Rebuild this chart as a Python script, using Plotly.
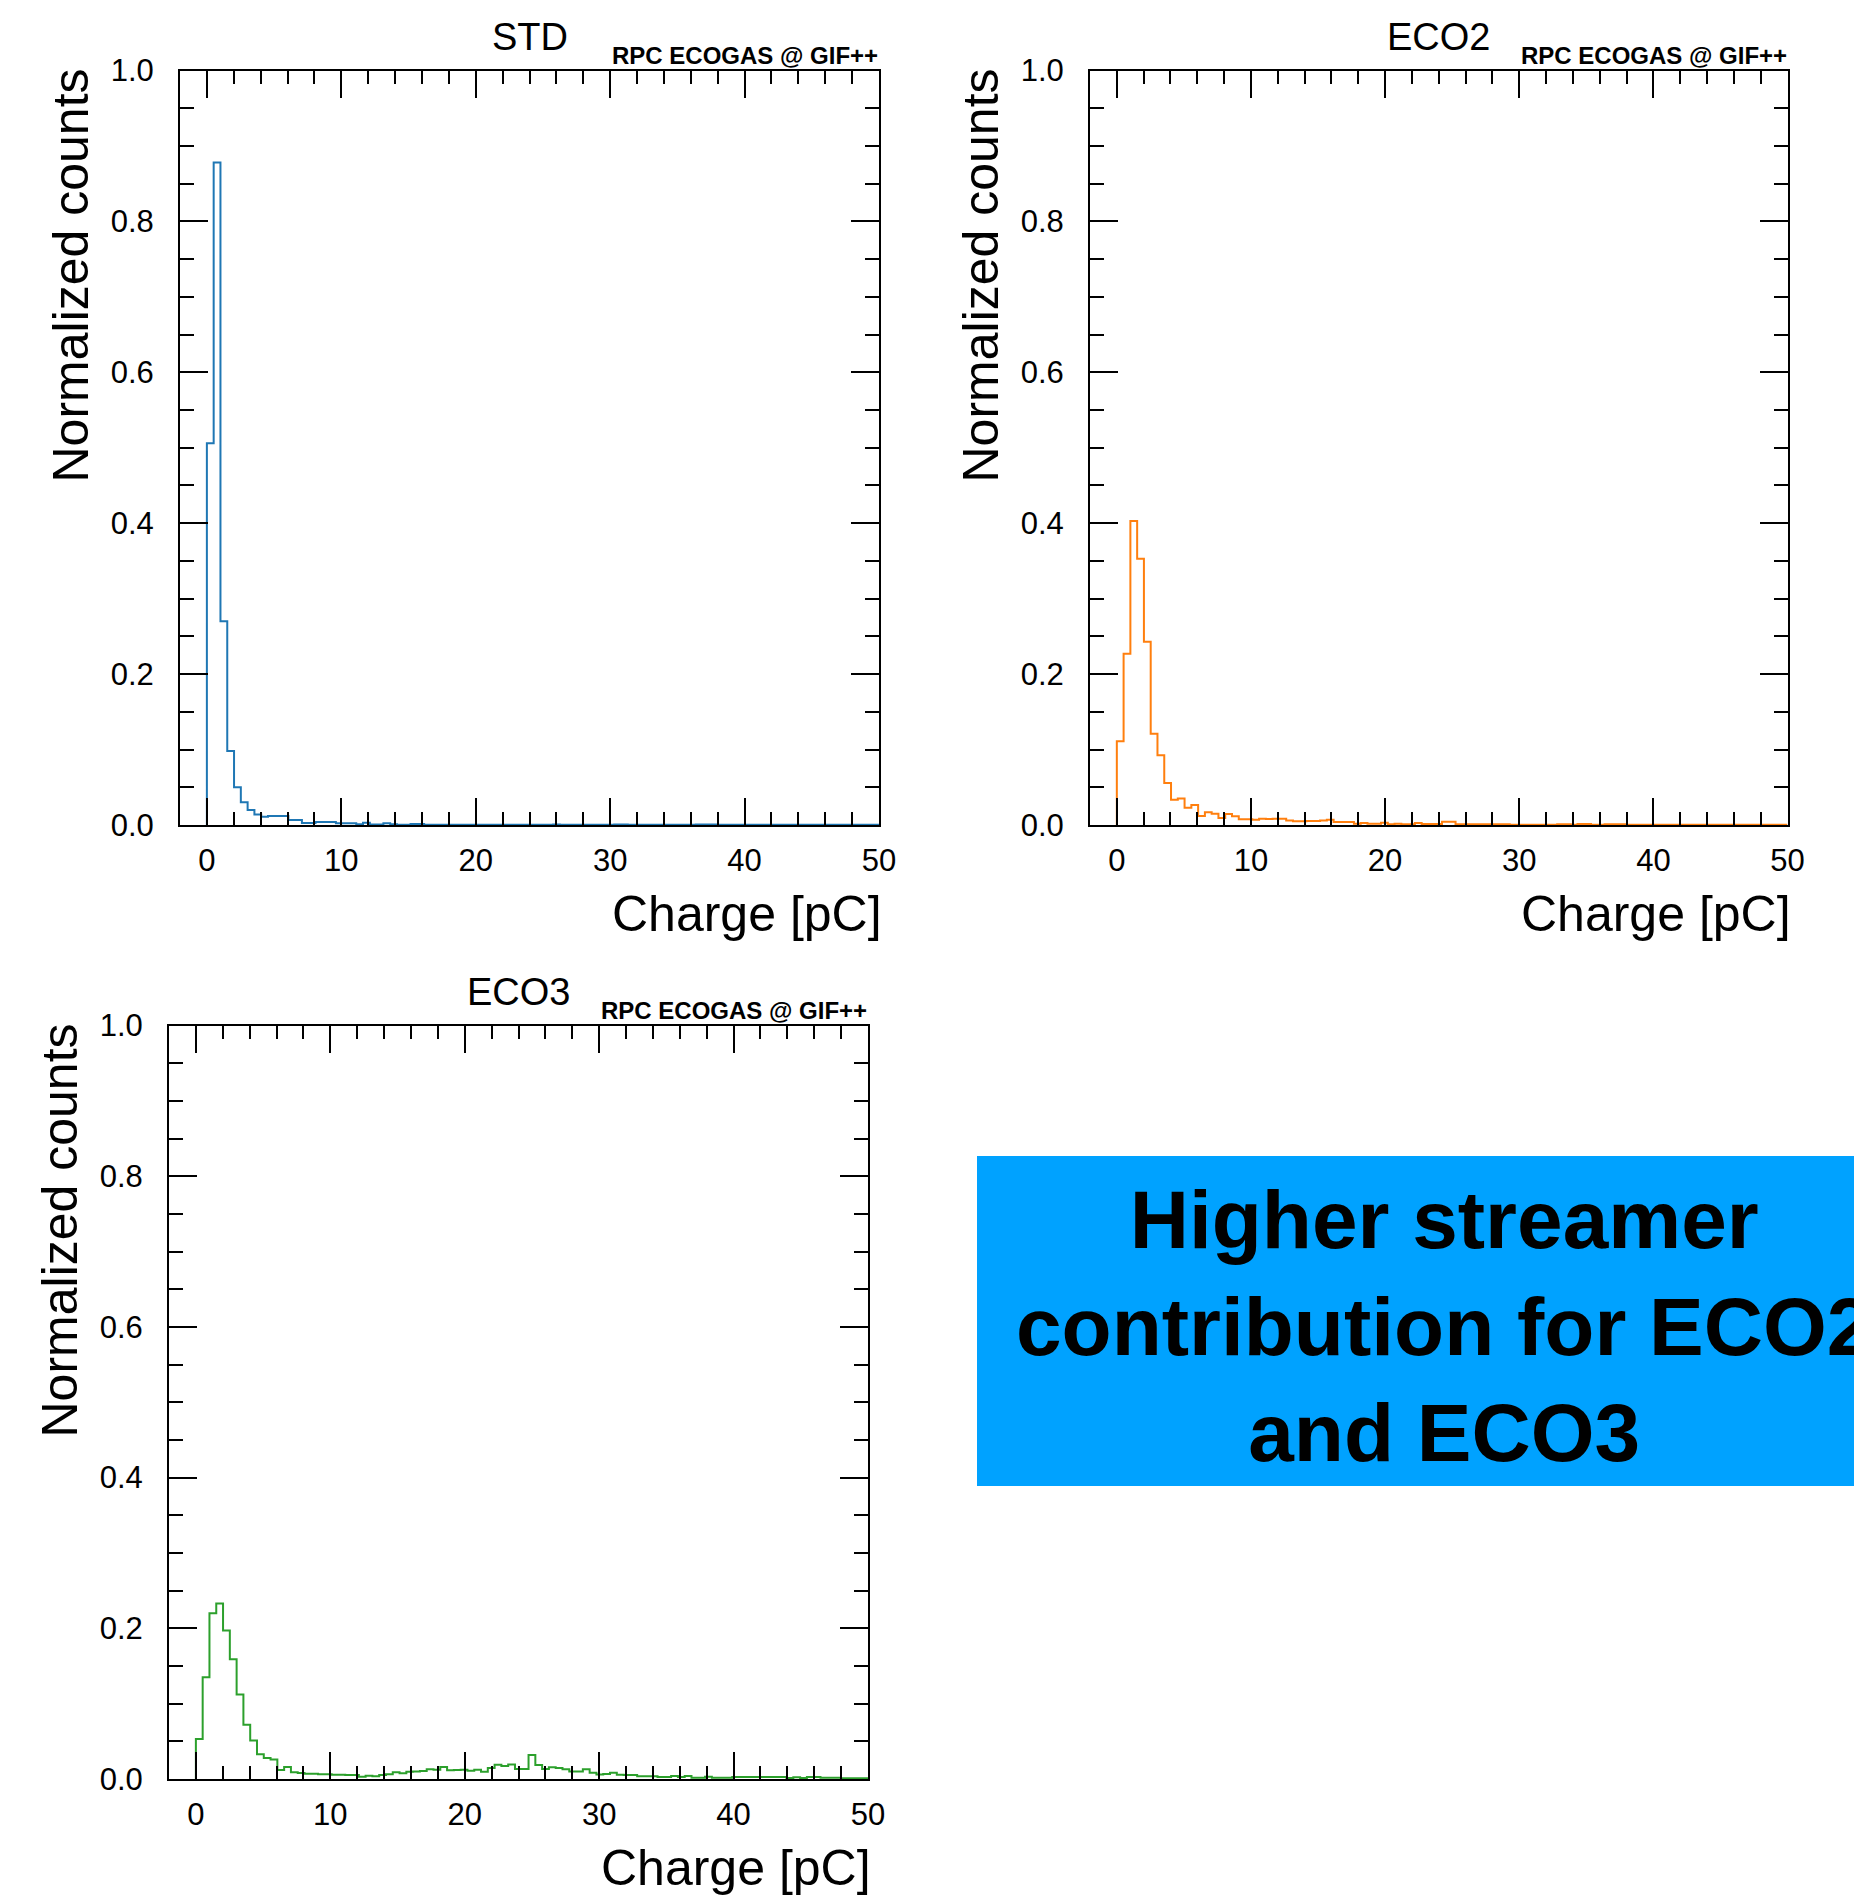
import numpy as np
import plotly.graph_objects as go

# ---------------- data ----------------
CHARGE_MIN = 0.0
CHARGE_MAX = 50.0
N_BINS = 99

panel_titles = ["STD", "ECO2", "ECO3"]
watermark = "RPC ECOGAS @ GIF++"
x_title = "Charge [pC]"
y_title = "Normalized counts"
box_text = "Higher streamer<br>contribution for ECO2<br>and ECO3"

x_tick_labels = ["0", "10", "20", "30", "40", "50"]
y_tick_labels = ["0.0", "0.2", "0.4", "0.6", "0.8", "1.0"]

std_counts = [
    0.506, 0.878, 0.270, 0.098, 0.050, 0.030, 0.020, 0.014, 0.011, 0.012,
    0.012, 0.012, 0.0065, 0.0065, 0.0028, 0.0028, 0.004, 0.004, 0.004, 0.0022,
    0.0022, 0.0022, 0.0009, 0.003, 0.0005, 0.0005, 0.0022, 0.0009, 0.0003, 0.0003,
    0.0013, 0.0013, 0.0003, 0.0003, 0.0003, 0.0003, 0.0003, 0.0003, 0.0003, 0.0003,
    0.0003, 0.0003, 0.0003, 0.0003, 0.0003, 0.0003, 0.0003, 0.0003, 0.0003, 0.0003,
    0.0003, 0.0006, 0.0003, 0.0003, 0.0003, 0.0003, 0.0003, 0.0003, 0.0003, 0.0003,
    0.0006, 0.0006, 0.0003, 0.0003, 0.0003, 0.0003, 0.0003, 0.0003, 0.0003, 0.0003,
    0.0003, 0.0003, 0.0006, 0.0006, 0.0006, 0.0003, 0.0003, 0.0003, 0.0003, 0.0003,
    0.0003, 0.0003, 0.0003, 0.0003, 0.0003, 0.0003, 0.0003, 0.0003, 0.0003, 0.0003,
    0.0003, 0.0003, 0.0003, 0.0003, 0.0003, 0.0003, 0.0003, 0.0003, 0.0003,
]

eco2_counts = [
    0.111, 0.227, 0.403, 0.353, 0.243, 0.121, 0.0925, 0.0558, 0.0336, 0.035,
    0.023, 0.0265, 0.012, 0.017, 0.015, 0.0093, 0.0146, 0.0115, 0.0075, 0.0075,
    0.007, 0.0084, 0.008, 0.0084, 0.0084, 0.0058, 0.0049, 0.0049, 0.0053, 0.0053,
    0.0058, 0.007, 0.004, 0.004, 0.004, 0.0018, 0.0027, 0.0018, 0.0018, 0.003,
    0.0009, 0.0018, 0.0009, 0.0009, 0.0027, 0.0013, 0.0013, 0.0013, 0.0044, 0.0044,
    0.0009, 0.0009, 0.0009, 0.0009, 0.0009, 0.0009, 0.0009, 0.0009, 0.0004, 0.0004,
    0.0002, 0.0002, 0.0002, 0.0002, 0.0002, 0.0009, 0.0009, 0.0002, 0.0013, 0.0013,
    0.0002, 0.0002, 0.0009, 0.0009, 0.0009, 0.0002, 0.0002, 0.0002, 0.0002, 0.0002,
    0.0002, 0.0002, 0.0004, 0.0004, 0.0004, 0.0004, 0.0002, 0.0002, 0.0002, 0.0002,
    0.0002, 0.0002, 0.0002, 0.0002, 0.0002, 0.0002, 0.0002, 0.0002, 0.0002,
]

eco3_counts = [
    0.053, 0.135, 0.220, 0.233, 0.197, 0.159, 0.112, 0.072, 0.051, 0.033,
    0.028, 0.026, 0.012, 0.016, 0.0088, 0.0079, 0.007, 0.007, 0.0062, 0.0062,
    0.0057, 0.0057, 0.0053, 0.0053, 0.003, 0.0044, 0.0035, 0.0053, 0.0062, 0.0088,
    0.0075, 0.0097, 0.0101, 0.0106, 0.0128, 0.0123, 0.0159, 0.0115, 0.0119, 0.0123,
    0.011, 0.0124, 0.0097, 0.0146, 0.019, 0.0172, 0.0194, 0.0132, 0.0132, 0.0318,
    0.0185, 0.0132, 0.0155, 0.0146, 0.0128, 0.010, 0.010, 0.013, 0.0084, 0.006,
    0.0066, 0.0084, 0.0057, 0.0053, 0.0053, 0.0035, 0.0035, 0.0035, 0.0026, 0.0026,
    0.004, 0.0026, 0.004, 0.0018, 0.0018, 0.003, 0.0018, 0.0018, 0.0018, 0.0026,
    0.0026, 0.0026, 0.0026, 0.0026, 0.0026, 0.0026, 0.0026, 0.0013, 0.0022, 0.0013,
    0.0026, 0.0026, 0.0018, 0.0018, 0.0018, 0.0009, 0.0009, 0.0009, 0.0009,
]

series = [std_counts, eco2_counts, eco3_counts]
colors = ["#1f77b4", "#ff7f0e", "#2ca02c"]

# ---------------- layout geometry (pixels) ----------------
W, H = 1854, 1896
FONT = "Liberation Sans, Arial, Helvetica, sans-serif"

# frame boxes: left, right, top, bottom (px)
frames = [
    (180, 879, 70.5, 825),
    (1090, 1787.5, 70.5, 825),
    (169, 868, 1025.5, 1779),
]


def px(x):
    return x / W


def py(y):
    return 1 - y / H


fig = go.Figure()
edges = np.linspace(CHARGE_MIN, CHARGE_MAX, N_BINS + 1)

for i, (vals, col) in enumerate(zip(series, colors)):
    v = np.asarray(vals, dtype=float)
    xs = np.concatenate([[edges[0]], edges[:-1], [edges[-1]]])
    ys = np.concatenate([[0.0], v, [v[-1]]])
    suffix = "" if i == 0 else str(i + 1)
    fig.add_trace(go.Scatter(
        x=xs, y=ys, mode="lines", line=dict(color=col, width=2, shape="hv"),
        xaxis="x" + suffix, yaxis="y" + suffix, showlegend=False,
        hoverinfo="skip",
    ))

layout = dict(
    width=W, height=H,
    margin=dict(l=0, r=0, t=0, b=0, pad=0, autoexpand=False),
    paper_bgcolor="white", plot_bgcolor="white",
    font=dict(family=FONT, color="black"),
    showlegend=False,
)

annotations = []
for i, (l, r, t, b) in enumerate(frames):
    suffix = "" if i == 0 else str(i + 1)
    xa = dict(
        domain=[px(l), px(r)], range=[-2, 50], anchor="y" + suffix,
        showline=True, linecolor="black", linewidth=2, mirror="ticks",
        ticks="inside", ticklen=27, tickwidth=2, tickcolor="black",
        tickvals=[float(s) for s in x_tick_labels], ticktext=x_tick_labels,
        minor=dict(dtick=2, tick0=0, ticks="inside", ticklen=13, tickwidth=2,
                   tickcolor="black", showgrid=False),
        showgrid=False, zeroline=False, automargin=False,
        tickfont=dict(family=FONT, size=31, color="black"),
        ticklabelstandoff=7,
    )
    ya = dict(
        domain=[py(b), py(t)], range=[0, 1.0], anchor="x" + suffix,
        showline=True, linecolor="black", linewidth=2, mirror="ticks",
        ticks="inside", ticklen=28, tickwidth=2, tickcolor="black",
        tickvals=[float(s) for s in y_tick_labels], ticktext=y_tick_labels,
        minor=dict(dtick=0.05, tick0=0, ticks="inside", ticklen=14, tickwidth=2,
                   tickcolor="black", showgrid=False),
        showgrid=False, zeroline=False, automargin=False,
        tickfont=dict(family=FONT, size=31, color="black"),
        ticklabelstandoff=18,
    )
    layout["xaxis" + suffix] = xa
    layout["yaxis" + suffix] = ya

    # panel title
    annotations.append(dict(
        text=panel_titles[i], xref="paper", yref="paper",
        x=px((l + r) / 2), y=py(t - 34), xanchor="center", yanchor="middle",
        showarrow=False, font=dict(family=FONT, size=38, color="black"),
    ))
    # watermark
    annotations.append(dict(
        text="<b>" + watermark + "</b>", xref="paper", yref="paper",
        x=px(r + 1), y=py(t - 14.5), xanchor="right", yanchor="middle",
        showarrow=False, font=dict(family=FONT, size=24, color="black"),
    ))
    # x title
    annotations.append(dict(
        text=x_title, xref="paper", yref="paper",
        x=px(r + 5), y=py(b + 89), xanchor="right", yanchor="middle",
        showarrow=False, font=dict(family=FONT, size=50, color="black"),
    ))
    # y title
    annotations.append(dict(
        text=y_title, xref="paper", yref="paper", textangle=-90,
        x=px(l - 110), y=py(t - 4), xanchor="center", yanchor="top",
        showarrow=False, font=dict(family=FONT, size=50, color="black"),
    ))

# blue box with message
layout["shapes"] = [dict(
    type="rect", xref="paper", yref="paper",
    x0=px(977), x1=1.02, y0=py(1486), y1=py(1156),
    fillcolor="#00a2ff", line=dict(width=0), layer="below",
)]
annotations.append(dict(
    text="<b>" + box_text + "</b>", xref="paper", yref="paper",
    x=px(1444), y=py(1326), xanchor="center", yanchor="middle",
    align="center", showarrow=False,
    font=dict(family=FONT, size=82, color="black"),
))
layout["annotations"] = annotations

fig.update_layout(**layout)

fig.write_html(
    "out.html",
    config={"displayModeBar": False},
    post_script="document.body.style.margin='0';document.body.style.padding='0';"
                "document.body.style.overflow='hidden';",
)
